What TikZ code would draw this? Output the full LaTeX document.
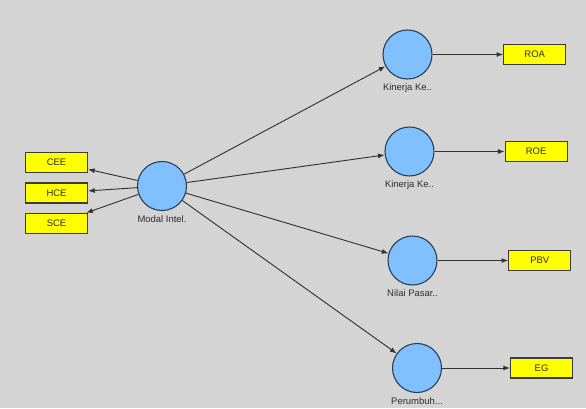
\documentclass[tikz,border=0pt]{standalone}
\usepackage{fontspec}
\setmainfont{Liberation Sans}
\usepackage{xcolor}
\usetikzlibrary{arrows.meta,positioning}

\definecolor{canvas}{RGB}{212,212,212}
\definecolor{lvfill}{RGB}{128,192,255}
\definecolor{lvline}{RGB}{40,60,85}
\definecolor{mvfill}{RGB}{255,255,0}
\definecolor{mvline}{RGB}{60,60,60}
\definecolor{txt}{RGB}{45,45,45}

\begin{document}
\begin{tikzpicture}[
    x=0.75pt, y=-0.75pt,
    font=\fontsize{7.1}{8}\selectfont,
    latent/.style={circle, draw=lvline, fill=lvfill, line width=0.8pt, minimum size=36.75pt, inner sep=0pt,
        label={[text=txt, label distance=-0.3pt]below:#1}},
    manifest/.style={rectangle, draw=mvline, fill=mvfill, line width=0.8pt, minimum width=46.5pt, minimum height=15pt,
        inner sep=0pt, text=txt},
    arrow/.style={-{Latex[length=5pt,width=3.8pt]}, line width=0.7pt, draw=black!80},
]
    \useasboundingbox[fill=canvas] (0,0) rectangle (586,408);

    % latent variables
    \node[latent={Modal Intel.}] (mi) at (162,186) {};
    \node[latent={Kinerja Ke..}] (kk1) at (407.5,54.5) {};
    \node[latent={Kinerja Ke..}] (kk2) at (409.5,151.5) {};
    \node[latent={Nilai Pasar..}] (np) at (412.5,260.5) {};
    \node[latent={Perumbuh...}] (pe) at (417,368) {};

    % indicators
    \node[manifest] (hce) at (56.5,193) {HCE};
    \node[manifest, above=7.3pt of hce] (cee) {CEE};
    \node[manifest, below=7pt of hce] (sce) {SCE};
    \node[manifest, right=53pt of kk1] (roa) {ROA};
    \node[manifest, right=52.5pt of kk2] (roe) {ROE};
    \node[manifest, right=53pt of np] (pbv) {PBV};
    \node[manifest, right=51pt of pe] (eg) {EG};

    \draw[arrow] (mi) -- (cee);
    \draw[arrow] (mi) -- (hce);
    \draw[arrow] (mi) -- (sce);
    \draw[arrow] (mi) -- (kk1);
    \draw[arrow] (mi) -- (kk2);
    \draw[arrow] (mi) -- (np);
    \draw[arrow] (mi) -- (pe);
    \draw[arrow] (kk1) -- (roa);
    \draw[arrow] (kk2) -- (roe);
    \draw[arrow] (np) -- (pbv);
    \draw[arrow] (pe) -- (eg);
\end{tikzpicture}
\end{document}
